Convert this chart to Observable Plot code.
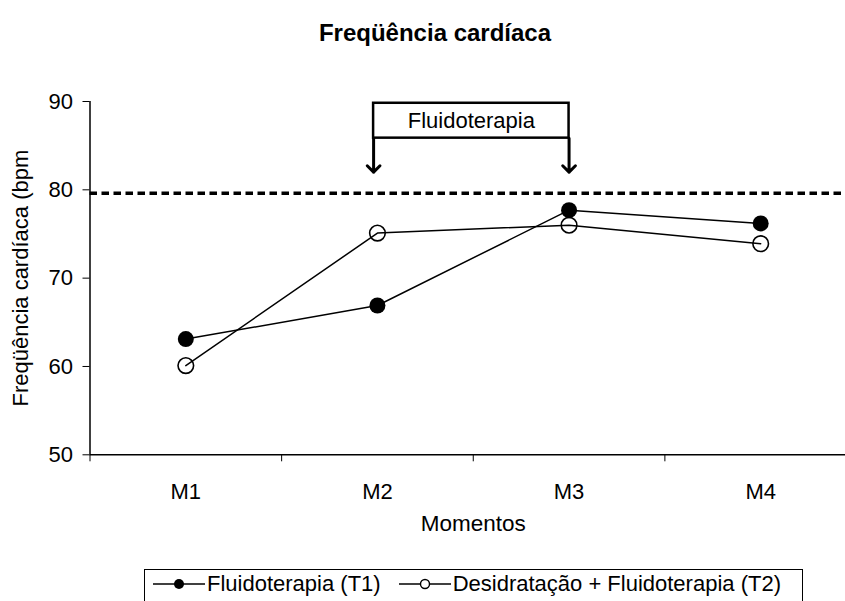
<!DOCTYPE html>
<html><head><meta charset="utf-8">
<script src="https://cdn.jsdelivr.net/npm/d3@7"></script>
<script src="https://cdn.jsdelivr.net/npm/@observablehq/plot@0.6"></script>
<style>
html,body{margin:0;padding:0;background:#fff;overflow:hidden;width:845px;height:601px;}
body{position:relative;font-family:"Liberation Sans",Arial,sans-serif;color:#000;}
#title{position:absolute;left:0;top:0;width:870px;height:66px;line-height:66px;text-align:center;font-weight:bold;font-size:24px;}
#chart{position:absolute;left:0;top:66px;}
#legend{position:absolute;left:144px;top:569px;width:659px;height:44px;border:1.5px solid #000;box-sizing:border-box;display:flex;align-items:flex-start;font-size:22px;line-height:28px;padding-left:8px;}
#legend .item{display:flex;align-items:center;}
#legend svg{display:block;margin-right:2px;}
</style>
</head><body>
<div id="title"></div>
<div id="chart"></div>
<div id="legend"></div>
<script>
const titleText = "Freqüência cardíaca";
const categories = ["M1", "M2", "M3", "M4"];
const seriesNames = ["Fluidoterapia (T1)", "Desidratação + Fluidoterapia (T2)"];
const t1 = [63.1, 66.9, 77.7, 76.2];
const t2 = [60.1, 75.1, 76.0, 73.9];
const refValue = 79.6;
const yTicks = [50, 60, 70, 80, 90];
const yDomain = [50, 90];
const xLabel = "Momentos";
const yLabel = "Freqüência cardíaca (bpm";
const annotLabel = "Fluidoterapia";
const annotX = [1.98, 3.0];
const annotTop = 89.8;
const annotBottom = 85.85;
const arrowTip = 82.0;

document.getElementById("title").textContent = titleText;

const xs = categories.map((c, i) => i + 1);
const bounds = d3.range(categories.length + 1).map(i => i + 0.5);
const xDomain = [0.5, categories.length + 0.5];
const rows1 = categories.map((c, i) => ({x: i + 1, y: t1[i]}));
const rows2 = categories.map((c, i) => ({x: i + 1, y: t2[i]}));
const font = "'Liberation Sans', Arial, sans-serif";

const chart = Plot.plot({
  width: 845,
  height: 497,
  marginLeft: 89.5,
  marginRight: -11,
  marginTop: 35,
  marginBottom: 108.7,
  style: {fontFamily: font, fontSize: "22px", background: "white", color: "black"},
  x: {type: "linear", domain: xDomain},
  y: {domain: yDomain},
  marks: [
    Plot.ruleY([refValue], {x1: xDomain[0], x2: xDomain[1], stroke: "black", strokeWidth: 3.5, strokeDasharray: "7.5,4.5"}),
    Plot.axisY({ticks: yTicks, tickSize: 7, tickPadding: 10, fontSize: 22, label: null}),
    Plot.axisX({ticks: bounds, tickSize: 7, tickFormat: () => "", label: null}),
    Plot.axisX({ticks: xs, tickSize: 0, tickPadding: 29, tickFormat: d => categories[d - 1], fontSize: 22, label: null}),
    Plot.ruleX([xDomain[0]], {stroke: "black", strokeWidth: 1.5}),
    Plot.ruleY([yDomain[0]], {stroke: "black", strokeWidth: 1.5}),
    Plot.text([xLabel], {text: d => d, x: (xDomain[0] + xDomain[1]) / 2, frameAnchor: "bottom", dy: 68.7, lineAnchor: "middle", fontSize: 22.5}),
    Plot.text([yLabel], {text: d => d, frameAnchor: "left", dx: -69.5, rotate: -90, textAnchor: "middle", lineAnchor: "middle", fontSize: 22}),
    Plot.rect([0], {x1: annotX[0], x2: annotX[1], y1: annotBottom, y2: annotTop, fill: "white", stroke: "black", strokeWidth: 2.5}),
    Plot.text([annotLabel], {text: d => d, x: (annotX[0] + annotX[1]) / 2, y: (annotTop + annotBottom) / 2, fontSize: 22, lineAnchor: "middle"}),
    Plot.arrow(annotX, {x1: d => d, x2: d => d, y1: annotBottom, y2: arrowTip, stroke: "black", strokeWidth: 3, headLength: 4.5, headAngle: 90}),
    Plot.line(rows2, {x: "x", y: "y", stroke: "black", strokeWidth: 1.5}),
    Plot.line(rows1, {x: "x", y: "y", stroke: "black", strokeWidth: 1.5}),
    Plot.dot(rows2, {x: "x", y: "y", r: 7.8, fill: "none", stroke: "black", strokeWidth: 1.6}),
    Plot.dot(rows1, {x: "x", y: "y", r: 8, fill: "black", stroke: "none"})
  ]
});
document.getElementById("chart").appendChild(chart);

// legend
const legend = document.getElementById("legend");
seriesNames.forEach((name, i) => {
  const item = document.createElement("div");
  item.className = "item";
  item.style.marginRight = i === 0 ? "18px" : "0px";
  const ns = "http://www.w3.org/2000/svg";
  const svg = document.createElementNS(ns, "svg");
  svg.setAttribute("width", 52); svg.setAttribute("height", 28);
  const ln = document.createElementNS(ns, "line");
  ln.setAttribute("x1", 0); ln.setAttribute("x2", 52); ln.setAttribute("y1", 14); ln.setAttribute("y2", 14);
  ln.setAttribute("stroke", "black"); ln.setAttribute("stroke-width", 1.5);
  const c = document.createElementNS(ns, "circle");
  c.setAttribute("cx", 26); c.setAttribute("cy", 14); c.setAttribute("r", i === 0 ? 5 : 4.5);
  c.setAttribute("fill", i === 0 ? "black" : "white");
  c.setAttribute("stroke", "black"); c.setAttribute("stroke-width", i === 0 ? 0 : 1.4);
  svg.appendChild(ln); svg.appendChild(c);
  const span = document.createElement("span");
  span.textContent = name;
  item.appendChild(svg); item.appendChild(span);
  legend.appendChild(item);
});
</script>
</body></html>
